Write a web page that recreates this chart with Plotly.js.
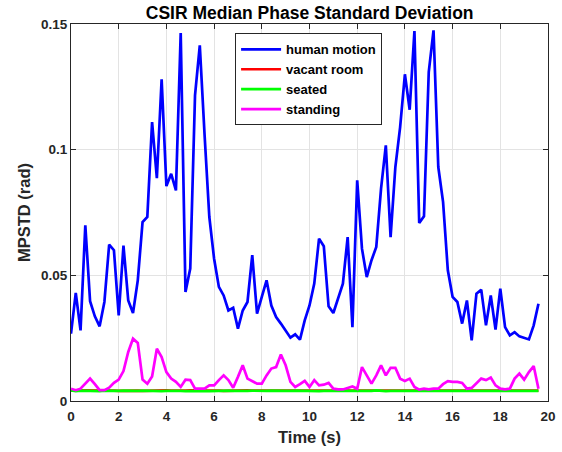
<!DOCTYPE html>
<html>
<head>
<meta charset="utf-8">
<script src="https://cdn.plot.ly/plotly-3.0.1.min.js"></script>
<style>html,body{margin:0;padding:0;background:#fff;}#chart{width:562px;height:452px;}</style>
</head>
<body>
<div id="chart"></div>
<script>
const time = [0,0.2,0.4,0.6,0.8,1,1.2,1.4,1.6,1.8,2,2.2,2.4,2.6,2.8,3,3.2,3.4,3.6,3.8,4,4.2,4.4,4.6,4.8,5,5.2,5.4,5.6,5.8,6,6.2,6.4,6.6,6.8,7,7.2,7.4,7.6,7.8,8,8.2,8.4,8.6,8.8,9,9.2,9.4,9.6,9.8,10,10.2,10.4,10.6,10.8,11,11.2,11.4,11.6,11.8,12,12.2,12.4,12.6,12.8,13,13.2,13.4,13.6,13.8,14,14.2,14.4,14.6,14.8,15,15.2,15.4,15.6,15.8,16,16.2,16.4,16.6,16.8,17,17.2,17.4,17.6,17.8,18,18.2,18.4,18.6,18.8,19,19.2,19.4,19.6];

const humanMotion = [0.0268,0.043,0.0281,0.0699,0.0397,0.0337,0.0297,0.0394,0.0622,0.060,
0.0341,0.0618,0.040,0.035,0.048,0.0712,0.0732,0.111,0.0887,0.128,
0.0855,0.0904,0.0838,0.1464,0.0434,0.0527,0.1216,0.1415,0.106,0.0732,
0.0566,0.0454,0.042,0.036,0.0371,0.0288,0.036,0.0394,0.058,0.0348,
0.0414,0.048,0.038,0.0334,0.0308,0.0281,0.0252,0.0265,0.0244,0.0321,
0.038,0.0467,0.0646,0.0616,0.0377,0.035,0.0407,0.0467,0.0652,0.0294,
0.0878,0.0606,0.0493,0.056,0.0613,0.0845,0.1017,0.0652,0.0931,0.109,
0.130,0.1159,0.1472,0.0708,0.0735,0.1309,0.1475,0.0931,0.0792,0.052,
0.0414,0.0394,0.0308,0.040,0.0241,0.0427,0.0443,0.0301,0.042,0.0284,
0.0447,0.0294,0.0261,0.0274,0.0257,0.0251,0.0245,0.0301,0.0387];

const vacantRoom = [0.0041,0.0040,0.0041,0.0042,0.0041,0.0040,0.0041,0.0041,0.0042,0.0041,
0.0040,0.0041,0.0041,0.0042,0.0041,0.0040,0.0041,0.0041,0.0040,0.0041,
0.0042,0.0041,0.0040,0.0041,0.0041,0.0042,0.0041,0.0040,0.0041,0.0041,
0.0042,0.0041,0.0040,0.0041,0.0041,0.0040,0.0041,0.0042,0.0041,0.0041,
0.0040,0.0041,0.0041,0.0042,0.0041,0.0040,0.0041,0.0041,0.0040,0.0041,
0.0042,0.0041,0.0041,0.0040,0.0041,0.0041,0.0042,0.0041,0.0040,0.0041,
0.0041,0.0042,0.0041,0.0040,0.0041,0.0041,0.0040,0.0041,0.0042,0.0041,
0.0041,0.0040,0.0041,0.0041,0.0042,0.0041,0.0040,0.0041,0.0041,0.0042,
0.0041,0.0040,0.0041,0.0041,0.0040,0.0041,0.0042,0.0041,0.0041,0.0040,
0.0041,0.0041,0.0042,0.0041,0.0040,0.0041,0.0041,0.0040,0.0041];

const seated = [0.0042,0.0039,0.0041,0.0040,0.0041,0.0040,0.0039,0.0041,0.0040,0.0041,
0.0040,0.0041,0.0040,0.0039,0.0040,0.0041,0.0040,0.0040,0.0041,0.0039,
0.0040,0.0041,0.0040,0.0040,0.0039,0.0040,0.0041,0.0040,0.0040,0.0039,
0.0040,0.0041,0.0040,0.0041,0.0040,0.0039,0.0040,0.0040,0.0041,0.0040,
0.0039,0.0040,0.0041,0.0040,0.0040,0.0039,0.0040,0.0041,0.0040,0.0040,
0.0041,0.0040,0.0039,0.0040,0.0040,0.0041,0.0040,0.0039,0.0040,0.0040,
0.0040,0.0041,0.0040,0.0040,0.0042,0.0040,0.0039,0.0040,0.0040,0.0041,
0.0040,0.0039,0.0040,0.0040,0.0041,0.0040,0.0040,0.0039,0.0040,0.0041,
0.0040,0.0040,0.0039,0.0040,0.0041,0.0040,0.0039,0.0040,0.0040,0.0041,
0.0040,0.0039,0.0040,0.0040,0.0041,0.0040,0.0040,0.0041,0.0040];

const standing = [0.0049,0.0043,0.0049,0.0069,0.0089,0.0067,0.0043,0.0043,0.0053,0.0072,
0.0085,0.0119,0.0195,0.0248,0.0231,0.0085,0.0069,0.0098,0.0208,0.0175,
0.0115,0.0089,0.0076,0.0056,0.0085,0.0083,0.0049,0.0049,0.0049,0.0062,
0.0062,0.0083,0.0102,0.0083,0.0053,0.0096,0.0142,0.0089,0.0079,0.0069,
0.0069,0.0102,0.0129,0.0135,0.0185,0.0142,0.0076,0.0056,0.0067,0.0080,
0.0056,0.0083,0.0062,0.0065,0.0072,0.0049,0.0046,0.0046,0.0052,0.0058,
0.0049,0.0135,0.0102,0.0069,0.0102,0.0142,0.0102,0.0132,0.0132,0.0089,
0.0080,0.0089,0.0056,0.0045,0.0049,0.0046,0.0049,0.0049,0.0067,0.0079,
0.0076,0.0076,0.0072,0.0049,0.0052,0.0069,0.0089,0.0083,0.0093,0.0062,
0.0049,0.0046,0.0049,0.0089,0.0109,0.0085,0.0115,0.0139,0.0049];

const seriesNames = ['human motion','vacant room','seated','standing'];
const seriesColors = ['#0000ff','#ff0000','#00ff00','#ff00ff'];
const seriesValues = [humanMotion, vacantRoom, seated, standing];

const xTicks = [0,2,4,6,8,10,12,14,16,18,20];
const yTicks = [0,0.05,0.1,0.15];
const yTickText = ['0','0.05','0.1','0.15'];

const FONT = 'Liberation Sans, Arial, sans-serif';
const traces = seriesValues.map((v,i)=>({
  x: time, y: v, type:'scatter', mode:'lines', name: seriesNames[i],
  line:{color: seriesColors[i], width: 2.7}
}));

const axisCommon = {
  showline:true, linecolor:'#262626', linewidth:1, mirror:'ticks',
  ticks:'inside', ticklen:5, tickwidth:1, tickcolor:'#262626',
  showgrid:true, gridcolor:'#e3e3e3', gridwidth:1, zeroline:false,
  tickfont:{family:FONT, size:13.5, color:'#262626', weight:'bold'}
};

const layout = {
  width:562, height:452,
  paper_bgcolor:'#ffffff', plot_bgcolor:'#ffffff',
  margin:{l:70.5, r:13.5, t:23.6, b:51.3, pad:0},
  title:{text:'CSIR Median Phase Standard Deviation', x:0.551, xanchor:'center', y:0.972, yanchor:'middle',
    font:{family:FONT, size:17.5, color:'#000', weight:'bold'}},
  xaxis: Object.assign({}, axisCommon, {range:[0,20], tickvals:xTicks, ticklabelstandoff:3,
    title:{text:'Time (s)', standoff:8, font:{family:FONT, size:16.5, color:'#262626', weight:'bold'}}}),
  yaxis: Object.assign({}, axisCommon, {range:[0,0.15], tickvals:yTicks, ticktext:yTickText,
    title:{text:'MPSTD (rad)', standoff:6, font:{family:FONT, size:16.5, color:'#262626', weight:'bold'}}}),
  showlegend:true,
  legend:{x:0.344, y:0.975, xanchor:'left', yanchor:'top', bgcolor:'#ffffff',
    bordercolor:'#262626', borderwidth:1, itemwidth:40, tracegroupgap:0,
    font:{family:FONT, size:13, color:'#000', weight:'bold'}}
};

Plotly.newPlot('chart', traces, layout, {displayModeBar:false, staticPlot:true});
</script>
</body>
</html>
